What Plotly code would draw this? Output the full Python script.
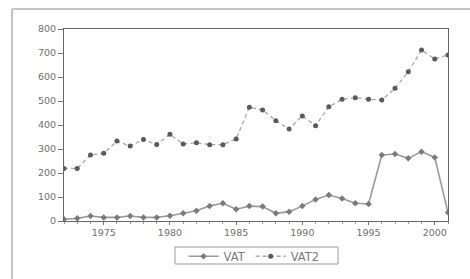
import plotly.graph_objects as go

years = list(range(1972, 2002))
vat = [7, 11, 21, 15, 15, 21, 15, 15, 22, 32, 43, 63, 74, 49, 62, 60, 32, 39, 62, 90,
       108, 94, 74, 71, 275, 279, 261, 289, 265, 35]
vat2 = [219, 219, 275, 282, 333, 312, 340, 319, 361, 321, 326, 318, 318, 342, 474, 463,
        418, 383, 438, 397, 476, 507, 514, 507, 504, 553, 622, 712, 675, 692]
x_ticks = [1975, 1980, 1985, 1990, 1995, 2000]
y_ticks = [0, 100, 200, 300, 400, 500, 600, 700, 800]

font = dict(family="DejaVu Sans", size=9.5, color="#6e6e6e")

fig = go.Figure()
fig.add_trace(go.Scatter(
    x=years, y=vat, name="VAT", mode="lines+markers",
    line=dict(color="#9a9a9a", width=1.6),
    marker=dict(symbol="diamond", size=5, color="#7a7a7a"),
))
fig.add_trace(go.Scatter(
    x=years, y=vat2, name="VAT2", mode="lines+markers",
    line=dict(color="#a8a8a8", width=1.3, dash="4px,3px"),
    marker=dict(symbol="circle", size=5, color="#5a5a5a"),
))

fig.update_layout(
    width=470, height=279,
    margin=dict(l=64, r=22, t=29, b=58, autoexpand=False),
    paper_bgcolor="white", plot_bgcolor="white",
    font=font,
    showlegend=True,
    legend=dict(
        orientation="h", x=0.495, xanchor="center", y=-0.108, yanchor="top",
        borderwidth=0, bgcolor="rgba(0,0,0,0)",
        font=dict(family="DejaVu Sans", size=11.5, color="#7a7a7a"),
        itemwidth=30, tracegroupgap=0,
    ),
    xaxis=dict(
        range=[1972, 2001], tickvals=x_ticks, ticks="outside", ticklen=3,
        tickcolor="#777", showgrid=False, zeroline=False,
        showline=True, linecolor="#666", linewidth=1, mirror=True,
        tickfont=font,
        minor=dict(dtick=1, ticks="outside", ticklen=2, tickcolor="#999", showgrid=False),
    ),
    yaxis=dict(
        range=[0, 800], tickvals=y_ticks, ticks="outside", ticklen=5,
        tickcolor="#777", showgrid=False, zeroline=False,
        showline=True, linecolor="#666", linewidth=1, mirror=True,
        tickfont=font, ticksuffix="\u00a0\u00a0\u00a0\u00a0",
    ),
    shapes=[
        dict(type="line", xref="paper", yref="paper",
             x0=(12 - 64) / 384, x1=(470 - 64) / 384, y0=(221 - 9) / 192, y1=(221 - 9) / 192,
             line=dict(color="#c4c4c4", width=2)),
        dict(type="line", xref="paper", yref="paper",
             x0=(12 - 64) / 384, x1=(12 - 64) / 384, y0=(221 - 9) / 192, y1=(221 - 279) / 192,
             line=dict(color="#c4c4c4", width=2)),
        dict(type="rect", xref="paper", yref="paper",
             x0=(175 - 64) / 384, x1=(338 - 64) / 384, y0=(221 - 264) / 192, y1=(221 - 247) / 192,
             line=dict(color="#9a9a9a", width=1)),
    ],
)

fig.write_html("out.html", config={"displayModeBar": False},
               post_script="document.body.style.margin='0';")
